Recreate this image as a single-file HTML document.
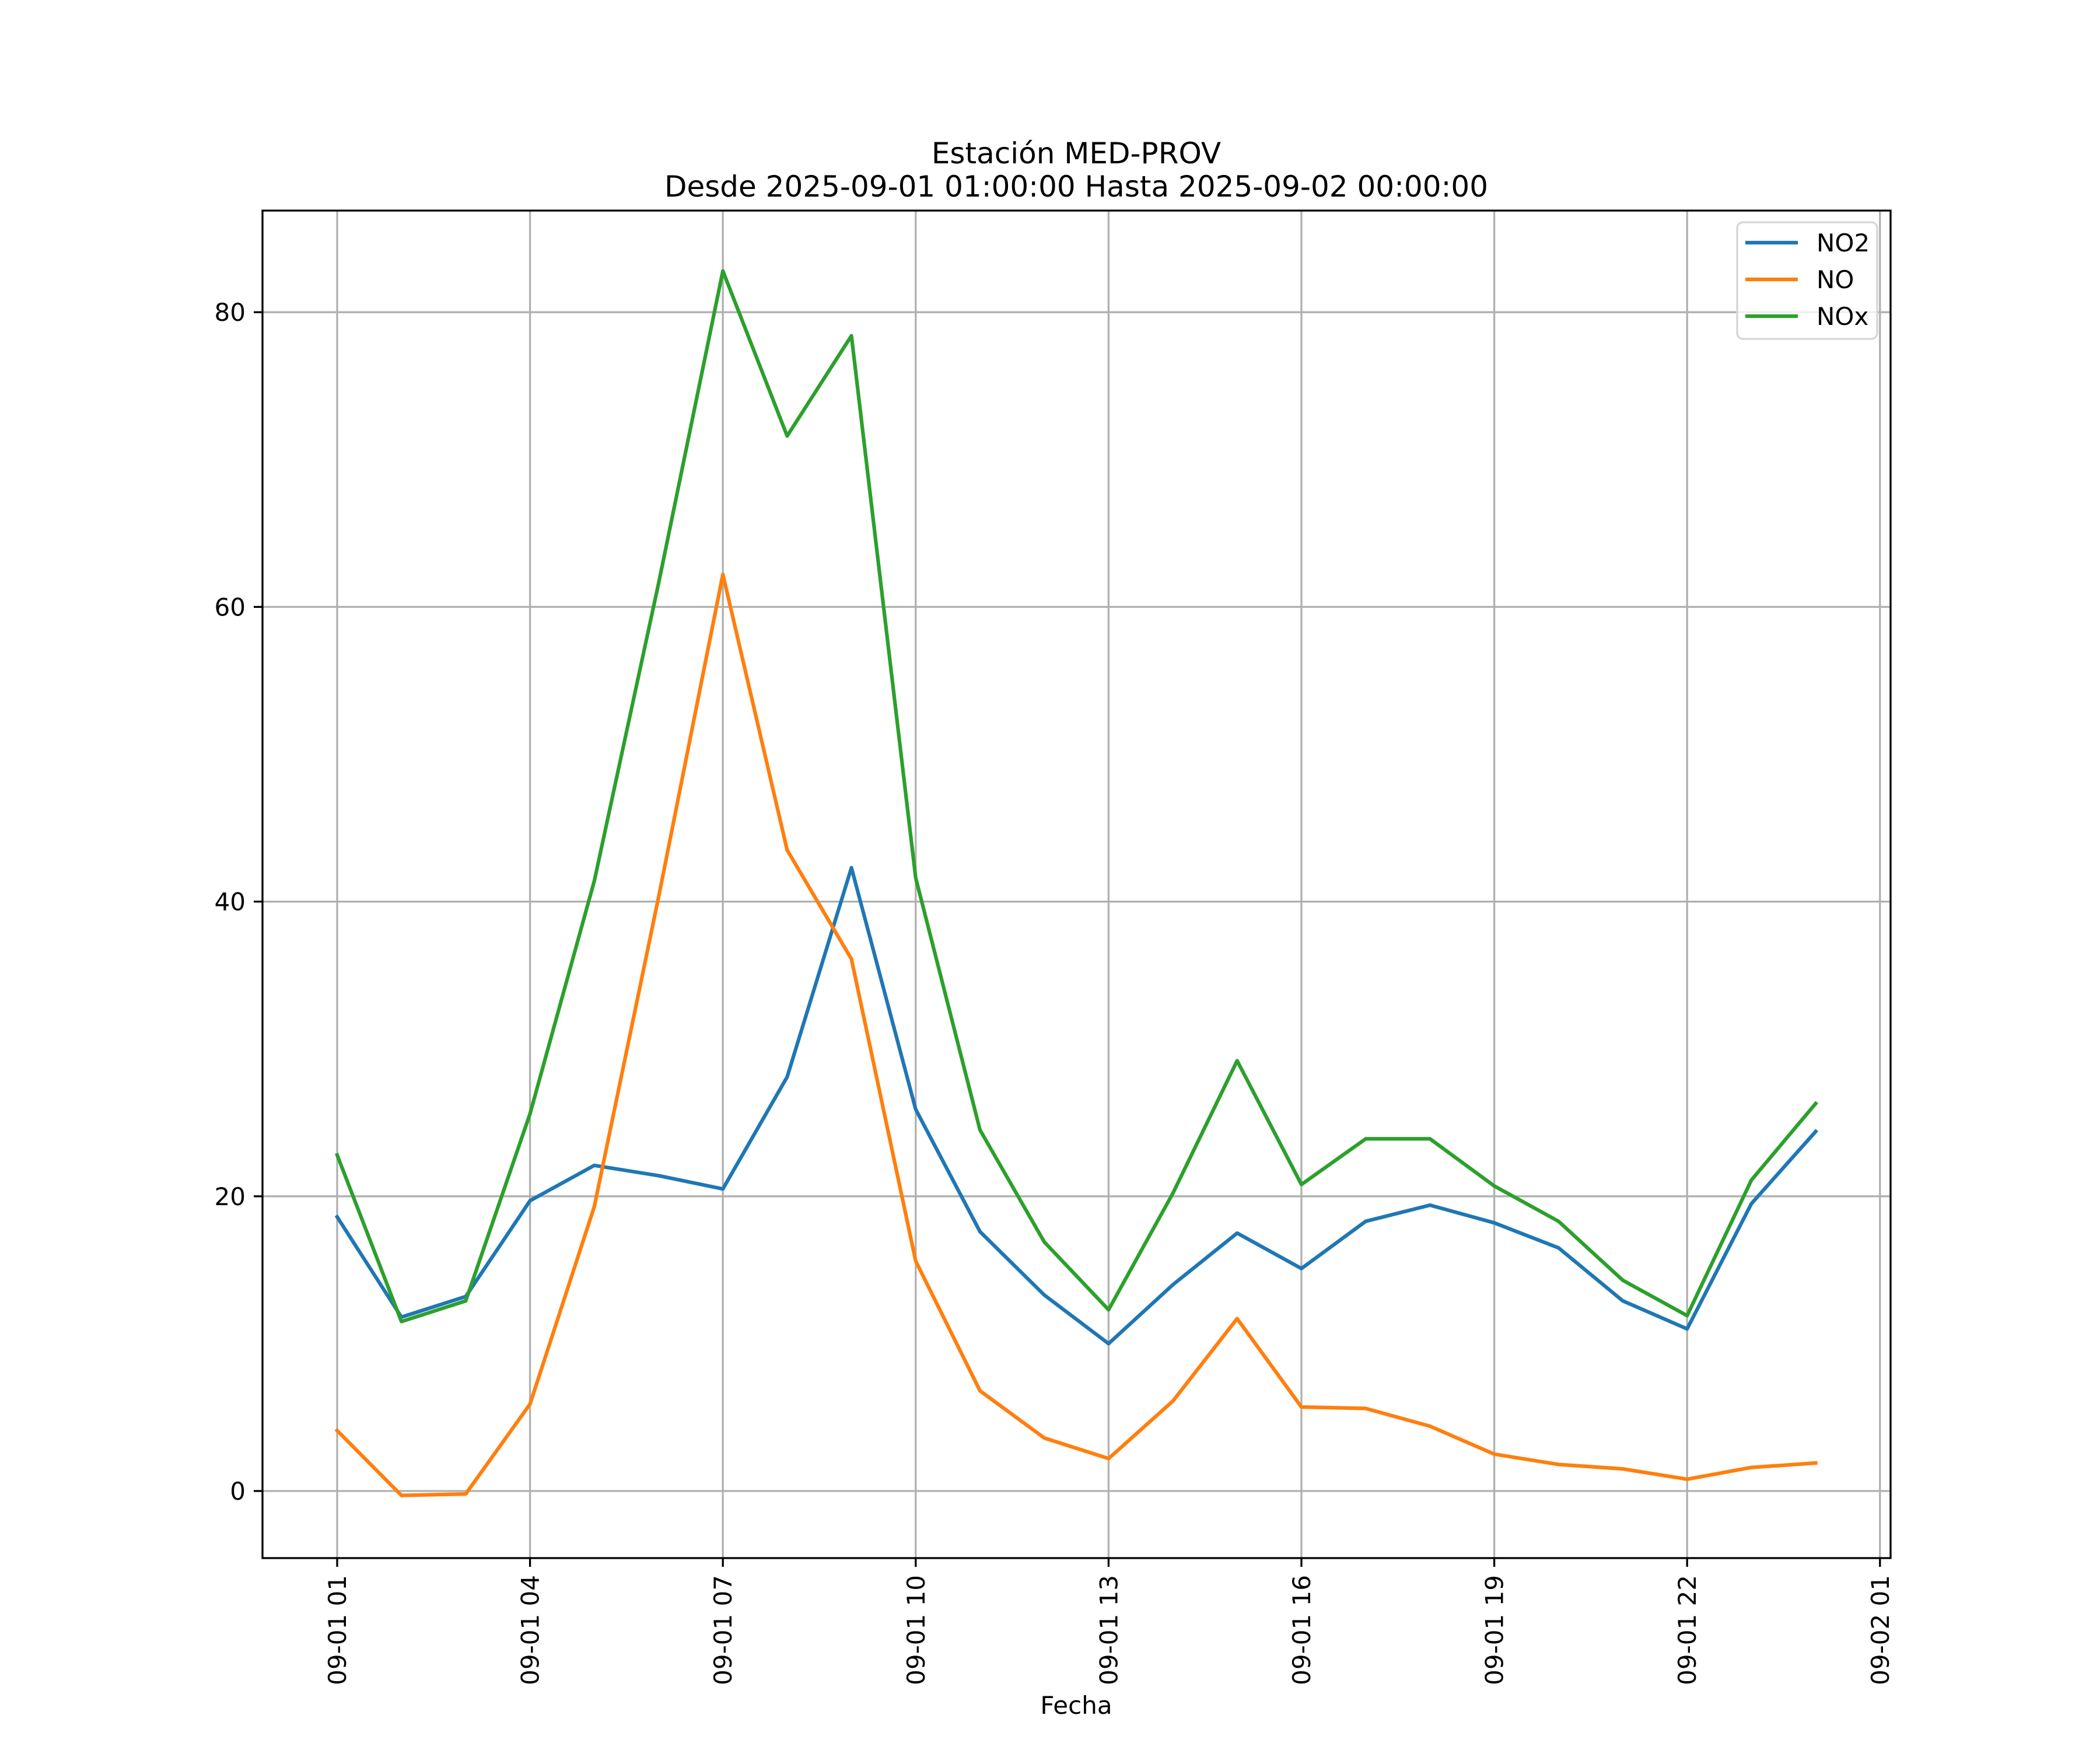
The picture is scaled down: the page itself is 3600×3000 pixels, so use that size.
<!DOCTYPE html>
<html><head><meta charset="utf-8"><style>
html,body{margin:0;padding:0;background:#fff;}
svg{display:block;font-family:"DejaVu Sans","Liberation Sans",sans-serif;}
</style></head><body>
<svg id="chart" width="3600" height="3000" viewBox="0 0 3600 3000" xmlns="http://www.w3.org/2000/svg">
<rect width="3600" height="3000" fill="#fff"/>
<text x="1845" y="280" font-size="50" text-anchor="middle">Estación MED-PROV</text>
<text x="1845" y="337" font-size="50" text-anchor="middle">Desde 2025-09-01 01:00:00 Hasta 2025-09-02 00:00:00</text>
<g id="grid"></g>
<g id="series"></g>
<rect x="450" y="361" width="2791" height="2310" fill="none" stroke="#000" stroke-width="3.3"/>
<g id="axes"></g>
<text x="1845" y="2938" font-size="42" text-anchor="middle">Fecha</text>
<g>
<rect x="2978" y="381" width="240" height="200" rx="10" fill="#fff" fill-opacity="0.8" stroke="#d6d6d6" stroke-width="3.3"/>
<line x1="2992" y1="416" x2="3082" y2="416" stroke="#1f77b4" stroke-width="6.25"/>
<text x="3114" y="431" font-size="42">NO2</text>
<line x1="2992" y1="479" x2="3082" y2="479" stroke="#ff7f0e" stroke-width="6.25"/>
<text x="3114" y="494" font-size="42">NO</text>
<line x1="2992" y1="542" x2="3082" y2="542" stroke="#2ca02c" stroke-width="6.25"/>
<text x="3114" y="557" font-size="42">NOx</text>
</g>
</svg>
<script>
const hours = [1,2,3,4,5,6,7,8,9,10,11,12,13,14,15,16,17,18,19,20,21,22,23,24];
const no2 = [18.6,11.8,13.2,19.7,22.1,21.4,20.5,28.1,42.3,25.9,17.6,13.3,10.0,14.0,17.5,15.1,18.3,19.4,18.2,16.5,12.9,11.0,19.5,24.4];
const no = [4.1,-0.3,-0.2,5.9,19.3,40.3,62.2,43.5,36.1,15.6,6.8,3.6,2.2,6.1,11.7,5.7,5.6,4.4,2.5,1.8,1.5,0.8,1.6,1.9];
const nox = [22.8,11.5,12.9,25.6,41.4,61.6,82.8,71.6,78.4,41.6,24.5,16.9,12.3,20.2,29.2,20.8,23.9,23.9,20.7,18.3,14.3,11.9,21.1,26.3];
const yTicks = [0,20,40,60,80];
const xTickHours = [1,4,7,10,13,16,19,22,25];
const xTickLabels = ["09-01 01","09-01 04","09-01 07","09-01 10","09-01 13","09-01 16","09-01 19","09-01 22","09-02 01"];

const NS = "http://www.w3.org/2000/svg";
function xs(h){ return 578 + (h-1)*110.2; }
function ys(v){ return 2556 - v*25.26; }
function mk(tag, attrs, parent){
  const e = document.createElementNS(NS, tag);
  for (const k in attrs) e.setAttribute(k, attrs[k]);
  parent.appendChild(e);
  return e;
}
const grid = document.getElementById('grid');
const axes = document.getElementById('axes');
const series = document.getElementById('series');

yTicks.forEach(v=>{
  const y = ys(v);
  const g = mk('line',{x1:450,x2:3241,y1:y,y2:y,stroke:'#b0b0b0','stroke-width':3.3},grid);
  
  
  const t = mk('line',{x1:435,x2:450,y1:y,y2:y,stroke:'#000','stroke-width':3.3},axes);
  
  
  const l = mk('text',{x:421,y:y+15,'font-size':42,'text-anchor':'end'},axes);
  l.textContent = v;
  
  
});
xTickHours.forEach((h,i)=>{
  const x = xs(h);
  const g = mk('line',{x1:x,x2:x,y1:361,y2:2671,stroke:'#b0b0b0','stroke-width':3.3},grid);
  
  
  const t = mk('line',{x1:x,x2:x,y1:2671,y2:2686,stroke:'#000','stroke-width':3.3},axes);
  
  
  const l = mk('text',{x:0,y:0,'font-size':42,'text-anchor':'end',transform:`translate(${x+15},2700) rotate(-90)`},axes);
  l.textContent = xTickLabels[i];
  
  
});
function drawLine(vals, color, name){
  const pts = vals.map((v,i)=>xs(hours[i]).toFixed(1)+','+ys(v).toFixed(1)).join(' ');
  const p = mk('polyline',{points:pts,fill:'none',stroke:color,'stroke-width':6.25,'stroke-linejoin':'round','stroke-linecap':'square'},series);
  
  
}
drawLine(no2,'#1f77b4','no2-line');
drawLine(no,'#ff7f0e','no-line');
drawLine(nox,'#2ca02c','nox-line');
</script>
</body></html>
